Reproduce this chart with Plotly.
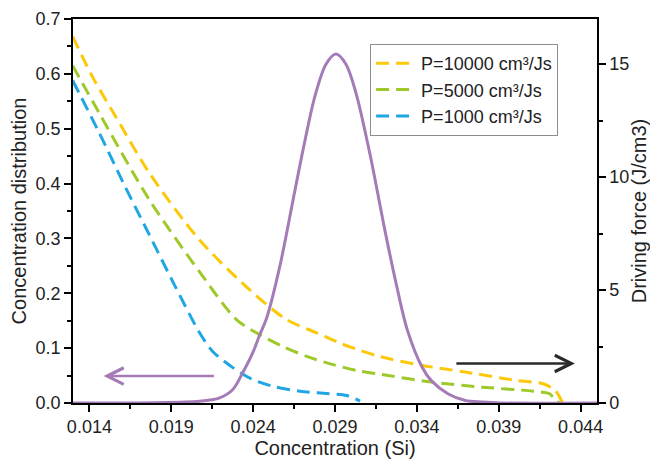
import plotly.graph_objects as go

# ---- data ----
yellow_x = [0.01298, 0.01420, 0.01563, 0.01767, 0.02073, 0.02380, 0.02604, 0.02788, 0.02931,
            0.03053, 0.03176, 0.03425, 0.03694, 0.04006, 0.04172, 0.04245, 0.04290]
yellow_y = [0.668, 0.594, 0.521, 0.419, 0.297, 0.206, 0.152, 0.128, 0.109,
            0.096, 0.0845, 0.0689, 0.0565, 0.0413, 0.0351, 0.0227, 0.0]

green_x = [0.01298, 0.01461, 0.01767, 0.02073, 0.02298, 0.02441, 0.02582, 0.02727, 0.02888,
           0.03053, 0.03176, 0.03487, 0.03798, 0.04109, 0.04213, 0.04232, 0.04270]
green_y = [0.615, 0.528, 0.370, 0.239, 0.152, 0.1245, 0.103, 0.085, 0.070,
           0.058, 0.0524, 0.0382, 0.0289, 0.0215, 0.0165, 0.010, 0.0]

blue_x = [0.01298, 0.01461, 0.01614, 0.01767, 0.01920, 0.02073, 0.02153, 0.02276, 0.02398,
          0.02520, 0.02686, 0.02849, 0.02972, 0.03053]
blue_y = [0.588, 0.492, 0.397, 0.306, 0.215, 0.128, 0.094, 0.0645, 0.0427,
          0.0305, 0.0215, 0.0173, 0.0136, 0.0033]

force_x = [0.01300, 0.02073, 0.02196, 0.02276, 0.02337, 0.02398, 0.02441, 0.02482, 0.02563,
           0.02655, 0.02716, 0.02778, 0.02845, 0.02906, 0.02967, 0.03029, 0.03114, 0.03206,
           0.03273, 0.03341, 0.03433, 0.03488, 0.03592, 0.03696, 0.03800, 0.03910, 0.04500]
force_y = [0.0, 0.08, 0.23, 0.60, 1.35, 2.23, 3.03, 3.75, 6.05,
           9.4, 11.6, 13.6, 15.0, 15.45, 15.0, 13.7, 11.0, 7.6,
           5.3, 3.25, 1.57, 0.99, 0.40, 0.11, 0.04, 0.0, 0.0]

series_names = ["P=10000 cm³/Js", "P=5000 cm³/Js", "P=1000 cm³/Js"]

# arrows: (tail x, head x, y) in data coords
left_arrow = (0.02170, 0.01487, 0.049)     # on left axis
right_arrow = (0.03632, 0.04365, 1.75)     # on right axis

x_ticks = [0.014, 0.019, 0.024, 0.029, 0.034, 0.039, 0.044]

FONT = "Arial, Liberation Sans, sans-serif"
YELLOW = "#FCC80A"
GREEN = "#9DC92A"
BLUE = "#1FA6E3"
PURPLE = "#A57BB7"
DASH = "13px,7px"

fig = go.Figure()
for xs, ys, name, col in [(yellow_x, yellow_y, series_names[0], YELLOW),
                          (green_x, green_y, series_names[1], GREEN),
                          (blue_x, blue_y, series_names[2], BLUE)]:
    fig.add_trace(go.Scatter(x=xs, y=ys, mode="lines", name=name,
                             line=dict(color=col, width=3, dash=DASH, shape="spline", smoothing=0.8)))

fig.add_trace(go.Scatter(x=force_x, y=force_y, mode="lines", yaxis="y2", showlegend=False,
                         line=dict(color=PURPLE, width=3, shape="spline", smoothing=0.9)))

minor_common = dict(ticks="outside", ticklen=4, tickcolor="black", tickwidth=1.5)
axis_common = dict(showline=True, linecolor="black", linewidth=1.5, showgrid=False,
                   zeroline=False, ticks="outside", tickcolor="black", tickwidth=1.5,
                   ticklen=7, automargin=False,
                   tickfont=dict(family=FONT, size=18, color="#222"))
title_font = dict(family=FONT, size=20, color="#222")

fig.update_layout(
    width=650, height=464,
    margin=dict(l=73, r=53, t=19, b=61),
    paper_bgcolor="white", plot_bgcolor="white",
    font=dict(family=FONT, color="#222"),
    xaxis=dict(range=[0.013, 0.045], tickvals=x_ticks, tickformat=".3f", mirror=True,
               minor=dict(tick0=0.0115, dtick=0.005, **minor_common),
               title=dict(text="Concentration (Si)", font=title_font, standoff=4),
               **axis_common),
    yaxis=dict(range=[0, 0.7], dtick=0.1, tickformat=".1f",
               minor=dict(dtick=0.05, **minor_common),
               title=dict(text="Concentration distribution", font=title_font, standoff=4),
               **axis_common),
    yaxis2=dict(range=[0, 17], dtick=5, overlaying="y", side="right", anchor="x",
                minor=dict(dtick=2.5, **minor_common),
                title=dict(text="Driving force (J/cm3)", font=title_font, standoff=0),
                **axis_common),
    legend=dict(x=0.567, y=0.935, xanchor="left", yanchor="top", bgcolor="white",
                bordercolor="#8c8c8c", borderwidth=1, font=dict(family=FONT, size=18, color="#222"),
                tracegroupgap=0, itemwidth=40),
)

fig.add_annotation(x=left_arrow[1], y=left_arrow[2], ax=left_arrow[0], ay=left_arrow[2],
                   xref="x", yref="y", axref="x", ayref="y", text="", showarrow=True,
                   arrowhead=5, arrowsize=1.3, arrowwidth=2.5, arrowcolor=PURPLE)
fig.add_annotation(x=right_arrow[1], y=right_arrow[2], ax=right_arrow[0], ay=right_arrow[2],
                   xref="x", yref="y2", axref="x", ayref="y2", text="", showarrow=True,
                   arrowhead=5, arrowsize=1.3, arrowwidth=2.5, arrowcolor="#2a2a2a")

fig.write_html("out.html", config={"displayModeBar": False},
               post_script="document.body.style.margin='0';document.body.style.overflow='hidden';")
